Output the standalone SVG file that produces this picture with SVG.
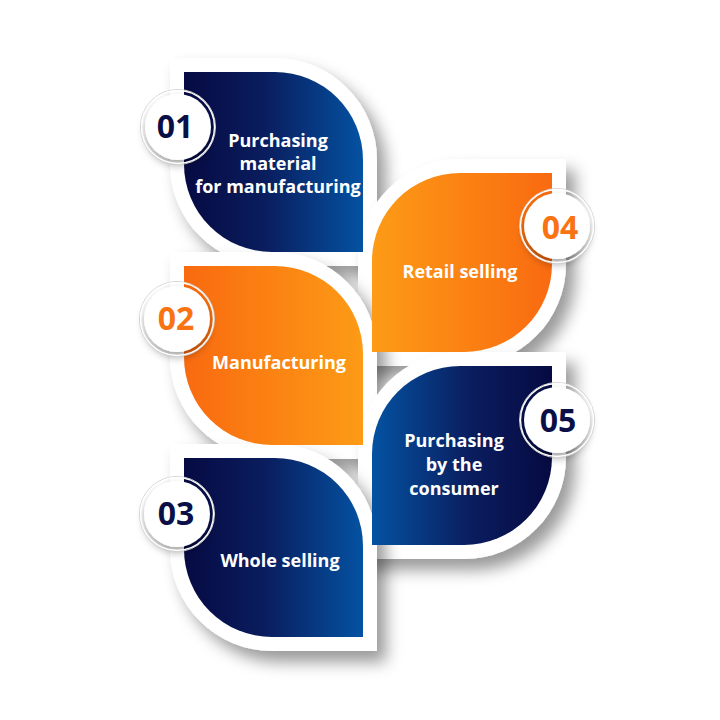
<svg xmlns="http://www.w3.org/2000/svg" width="720" height="720" viewBox="0 0 720 720">
  <defs>
    <linearGradient id="gNavyLR" x1="0" y1="0" x2="1" y2="0">
      <stop offset="0" stop-color="#060a42"/>
      <stop offset="0.45" stop-color="#0a1d5e"/>
      <stop offset="1" stop-color="#0452a2"/>
    </linearGradient>
    <linearGradient id="gNavyRL" x1="1" y1="0" x2="0" y2="0">
      <stop offset="0" stop-color="#060a42"/>
      <stop offset="0.45" stop-color="#0a1d5e"/>
      <stop offset="1" stop-color="#0452a2"/>
    </linearGradient>
    <linearGradient id="gOrangeLR" x1="0" y1="0" x2="1" y2="0">
      <stop offset="0" stop-color="#f96a10"/>
      <stop offset="1" stop-color="#fd9b16"/>
    </linearGradient>
    <linearGradient id="gOrangeRL" x1="1" y1="0" x2="0" y2="0">
      <stop offset="0" stop-color="#f96a10"/>
      <stop offset="1" stop-color="#fd9b16"/>
    </linearGradient>
    <filter id="cardShadow" x="-25%" y="-25%" width="160%" height="160%">
      <feDropShadow dx="9" dy="11" stdDeviation="8" flood-color="#000" flood-opacity="0.4"/>
    </filter>
    <filter id="circShadow" x="-40%" y="-40%" width="180%" height="180%">
      <feDropShadow dx="0" dy="5" stdDeviation="4" flood-color="#000" flood-opacity="0.35"/>
    </filter>
  </defs>
  <style>
    .card { fill: #ffffff; filter: url(#cardShadow); }
    .disc { fill: #ffffff; filter: url(#circShadow); }
    .ringOut { fill: none; stroke: #cfcfcf; stroke-width: 1; }
    .ringIn { fill: none; stroke: #ffffff; stroke-width: 1.4; }
    .num { font-family: "Open Sans", "Liberation Sans", sans-serif; font-weight: 700; font-size: 32px; text-anchor: middle; }
    .navy { fill: #0b0f47; }
    .orange { fill: #f97312; }
    .lbl { font-family: "Open Sans", "Liberation Sans", sans-serif; font-weight: 700; font-size: 18px; fill: #ffffff; text-anchor: middle; }
  </style>
  <rect width="720" height="720" fill="#ffffff"/>

  <g id="backdrops">
    <path class="card" d="M170 58 H275 A102 102 0 0 1 377 160 V266 H272 A102 102 0 0 1 170 164 Z"/>
    <path class="card" d="M460 159 H566 V264 A102 102 0 0 1 464 366 H358 V261 A102 102 0 0 1 460 159 Z"/>
    <path class="card" d="M170 252 H275 A102 102 0 0 1 377 354 V459 H272 A102 102 0 0 1 170 357 Z"/>
    <path class="card" d="M460 352 H566 V457 A102 102 0 0 1 464 559 H358 V454 A102 102 0 0 1 460 352 Z"/>
    <path class="card" d="M170 444 H275 A102 102 0 0 1 377 546 V651 H272 A102 102 0 0 1 170 549 Z"/>
  </g>

  <g id="step01">
    <path fill="url(#gNavyLR)" d="M184 72 H275 A88 88 0 0 1 363 160 V252 H272 A88 88 0 0 1 184 164 Z"/>
    <circle class="disc" cx="178" cy="127" r="33"/>
    <circle class="ringOut" cx="178" cy="127" r="37.5"/>
    <circle class="ringIn" cx="178" cy="127" r="36.5"/>
    <text class="num navy" x="175" y="138">01</text>
    <text class="lbl" x="278" y="147">Purchasing</text>
    <text class="lbl" x="278" y="170">material</text>
    <text class="lbl" x="278" y="193">for manufacturing</text>
  </g>

  <g id="step02">
    <path fill="url(#gOrangeLR)" d="M184 266 H275 A88 88 0 0 1 363 354 V445 H272 A88 88 0 0 1 184 357 Z"/>
    <circle class="disc" cx="177" cy="319" r="33"/>
    <circle class="ringOut" cx="177" cy="319" r="37.5"/>
    <circle class="ringIn" cx="177" cy="319" r="36.5"/>
    <text class="num orange" x="176" y="330">02</text>
    <text class="lbl" x="279" y="369">Manufacturing</text>
  </g>

  <g id="step03">
    <path fill="url(#gNavyLR)" d="M184 458 H275 A88 88 0 0 1 363 546 V637 H272 A88 88 0 0 1 184 549 Z"/>
    <circle class="disc" cx="177" cy="514" r="33"/>
    <circle class="ringOut" cx="177" cy="514" r="37.5"/>
    <circle class="ringIn" cx="177" cy="514" r="36.5"/>
    <text class="num navy" x="176" y="525">03</text>
    <text class="lbl" x="280" y="567">Whole selling</text>
  </g>

  <g id="step04">
    <path fill="url(#gOrangeRL)" d="M460 173 H552 V264 A88 88 0 0 1 464 352 H372 V261 A88 88 0 0 1 460 173 Z"/>
    <circle class="disc" cx="557" cy="226" r="33"/>
    <circle class="ringOut" cx="557" cy="226" r="37.5"/>
    <circle class="ringIn" cx="557" cy="226" r="36.5"/>
    <text class="num orange" x="560" y="239">04</text>
    <text class="lbl" x="460" y="278">Retail selling</text>
  </g>

  <g id="step05">
    <path fill="url(#gNavyRL)" d="M460 366 H552 V457 A88 88 0 0 1 464 545 H372 V454 A88 88 0 0 1 460 366 Z"/>
    <circle class="disc" cx="557" cy="420" r="33"/>
    <circle class="ringOut" cx="557" cy="420" r="37.5"/>
    <circle class="ringIn" cx="557" cy="420" r="36.5"/>
    <text class="num navy" x="558" y="432">05</text>
    <text class="lbl" x="454" y="447">Purchasing</text>
    <text class="lbl" x="454" y="471">by the</text>
    <text class="lbl" x="454" y="495">consumer</text>
  </g>
</svg>
